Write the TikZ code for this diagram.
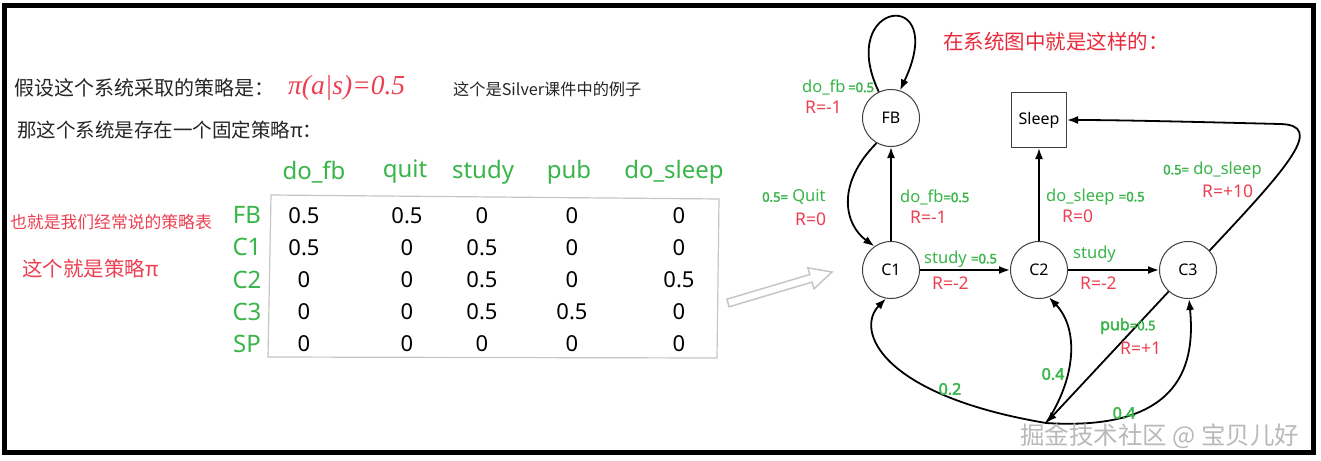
\documentclass[tikz,border=0pt]{standalone}
\usepackage{fontspec}
\setmainfont{Noto Sans CJK SC}
\newfontfamily\lat{Noto Sans}[AutoFakeBold=2.5]
\newfontfamily\tms{Liberation Serif}
\usetikzlibrary{arrows.meta}
\definecolor{grn}{RGB}{57,181,74}
\definecolor{rd}{RGB}{236,64,82}
\definecolor{ttlred}{RGB}{232,42,58}
\newcommand\fsz[1]{\fontsize{#1}{#1}\selectfont}
\newcommand\bnum[1]{{\bfseries\fsz{13}#1}}
\begin{document}
\begin{tikzpicture}[x=1pt,y=-1pt,
  txt/.style={anchor=west,inner sep=0pt},
  hdr/.style={inner sep=0pt,text=grn,font=\lat\fsz{24}},
  val/.style={inner sep=0pt,font=\lat\fsz{22}},
  state/.style={circle,draw=black!75,line width=1pt,minimum size=57pt,inner sep=0pt,font=\lat\fsz{16}},
  sbox/.style={rectangle,draw=black!75,line width=1pt,minimum size=55pt,inner sep=0pt,font=\lat\fsz{16}},
  edge/.style={line width=1.8pt,-{Latex[length=11pt,width=8pt]}},
  lg/.style={anchor=west,inner sep=0pt,text=grn,font=\lat\fsz{16.5}},
  lr/.style={anchor=west,inner sep=0pt,text=rd,font=\lat\fsz{17.5}},
  pn/.style={inner sep=0pt,text=grn,font=\lat\bfseries\fsz{16}}]
\useasboundingbox (0,0) rectangle (1321,460);
\fill[white] (0,0) rectangle (1321,460);
\draw[line width=5pt] (4.5,5.5) rectangle (1313.5,452.5);

% left texts
\node[txt,font=\fsz{20},text=black!85] (t1) at (14,88) {假设这个系统采取的策略是：};
\node[txt,font=\tms\itshape\fsz{27.5},text=rd] (pi) at (288,88) {π(a|s)=0.5};
\node[txt,font=\fsz{16.2},text=black!85] (t2) at (453,89) {这个是Silver课件中的例子};
\node[txt,font=\fsz{19.5},text=black!85] (t3) at (17,130) {那这个系统是存在一个固定策略π：};
\node[txt,font=\fsz{16.8},text=rd] (t4) at (10,222) {也就是我们经常说的策略表};
\node[txt,font=\fsz{20.5},text=rd] (t5) at (22,269) {这个就是策略π};

% table
\foreach \x/\h [count=\c] in {314/do\_fb,405/quit,483/study,569/pub,674/do\_sleep}
  \node[hdr] (h\c) at (\x,172) {\h};
\foreach \y/\r [count=\c] in {215/FB,247/C1,280/C2,312/C3,344/SP}
  \node[hdr] (r\c) at (247,\y) {\r};
\foreach \x/\v [count=\c] in {304/0.5,407/0.5,482/0,572/0,679/0}
  \node[val] (va\c) at (\x,216) {\v};
\foreach \x/\v [count=\c] in {304/0.5,407/0,482/0.5,572/0,679/0}
  \node[val] (vb\c) at (\x,248) {\v};
\foreach \x/\v [count=\c] in {304/0,407/0,482/0.5,572/0,679/0.5}
  \node[val] (vc\c) at (\x,280) {\v};
\foreach \x/\v [count=\c] in {304/0,407/0,482/0.5,572/0.5,679/0}
  \node[val] (vd\c) at (\x,312) {\v};
\foreach \x/\v [count=\c] in {304/0,407/0,482/0,572/0,679/0}
  \node[val] (ve\c) at (\x,344) {\v};
\draw[gray!45,line width=1.2pt] (271,195) -- (719,199) -- (717,358) -- (268,357) -- cycle;

% hollow arrow
\draw[gray!45,line width=1.5pt,line join=miter]
  (726.9,299.2) -- (809.8,274.5) -- (807.8,267.8) -- (832,272) -- (814.0,288.8) -- (812.0,282.1) -- (729.1,306.8) -- cycle;

% graph
\node[txt,font=\fsz{20.5},text=ttlred] (ttl) at (943,42) {在系统图中就是这样的：};
\node[state] (FB) at (891,118) {FB};
\node[sbox] (Sleep) at (1039,120) {Sleep};
\node[state] (C1) at (891,270) {C1};
\node[state] (C2) at (1039,270) {C2};
\node[state] (C3) at (1188,270) {C3};
\coordinate (X) at (1046,423);

\draw[edge] (FB.115) .. controls (835,0) and (950,-15) .. (FB.72);
\draw[edge] (FB.240) .. controls (835,185) and (845,225) .. (C1.125);
\draw[edge] (C1) -- (FB);
\draw[edge] (C2) -- (Sleep);
\draw[edge] (C1) -- (C2);
\draw[edge] (C2) -- (C3);
\draw[edge] (C3.42) .. controls (1290,165) and (1325,125) .. (1280,124) .. controls (1200,122) and (1120,120) .. (Sleep.east);
\draw[edge] (C3.228) -- (X);
\draw[edge] (X) .. controls (880,395) and (855,330) .. (C1.260);
\draw[edge] (X) .. controls (1075,380) and (1080,330) .. (C2.290);
\draw[edge] (X) .. controls (1185,432) and (1195,360) .. (C3.272);

% edge labels
\node[lg] (a1) at (802,87) {do\_fb\,\bnum{=0.5}};
\node[lr] (a2) at (805,107) {R=-1};
\node[lg] (b1) at (762,197) {\bnum{0.5=} Quit};
\node[lr] (b2) at (795,219) {R=0};
\node[lg] (c1) at (900,197) {do\_fb\bnum{=0.5}};
\node[lr] (c2) at (910,217) {R=-1};
\node[lg] (d1) at (1046,197) {do\_sleep \bnum{=0.5}};
\node[lr] (d2) at (1062,216) {R=0};
\node[lg] (e1) at (1163,170) {\bnum{0.5=} do\_sleep};
\node[lr] (e2) at (1202,191) {R=+10};
\node[lg] (f1) at (924,259) {study \bnum{=0.5}};
\node[lr] (f2) at (932,283) {R=-2};
\node[lg] (g1) at (1073,254) {study};
\node[lr] (g2) at (1080,283) {R=-2};
\node[lg,font=\lat\bfseries\fsz{16}] (p1) at (1100,326) {pub\bnum{=0.5}};
\node[lr] (p2) at (1120,348) {R=+1};
\node[pn] (q1) at (950,389) {0.2};
\node[pn] (q2) at (1053,374) {0.4};
\node[pn] (q3) at (1124,413) {0.4};

% watermark
\node[txt,font=\fsz{24.5},text=gray!55] (wm) at (1020,436) {掘金技术社区 @ 宝贝儿好};
\end{tikzpicture}
\end{document}
